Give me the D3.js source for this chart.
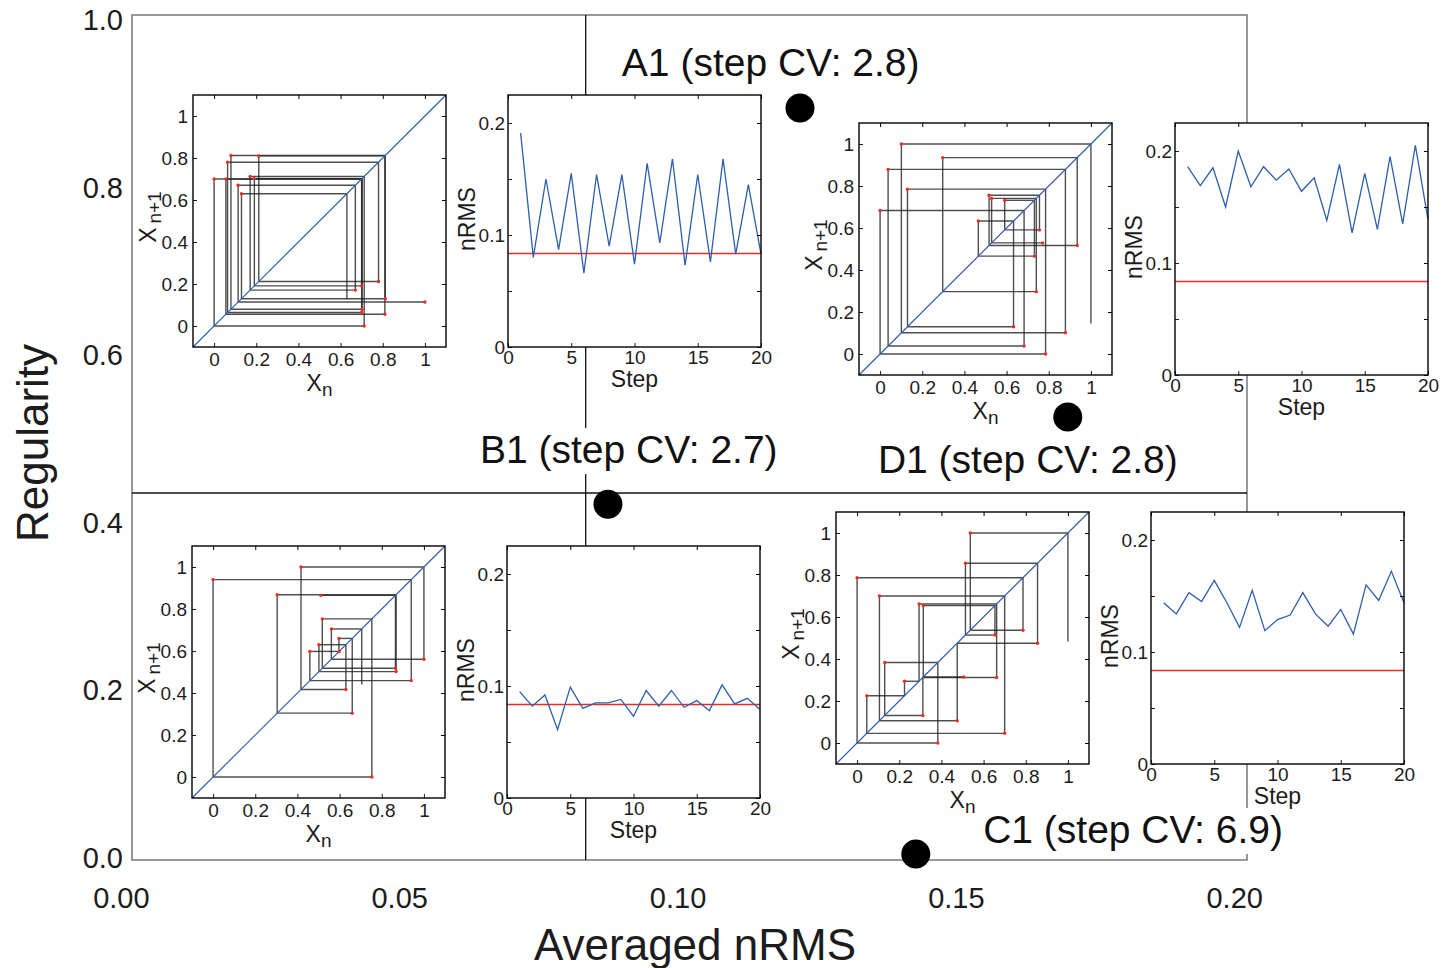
<!DOCTYPE html>
<html>
<head>
<meta charset="utf-8">
<script src="https://cdn.jsdelivr.net/npm/d3@7"></script>
<style>
  body { margin: 0; background: #fff; }
  svg { display: block; }
  text { font-family: "Liberation Sans", Arial, Helvetica, sans-serif; }
</style>
</head>
<body>
<svg id="chart" width="1450" height="968"></svg>
<script>
// ---------------- data ----------------
const caseNames  = ["A1", "B1", "C1", "D1"];
const stepCV     = [2.8, 2.7, 6.9, 2.8];
const avgNRMS    = [0.1220, 0.0875, 0.1428, 0.1701];   // averaged nRMS per case
const regularity = [0.8956, 0.4223, 0.0048, 0.5266];   // regularity per case
const refNRMS    = 0.0835;                              // nRMS threshold
const regularityCut = 0.4358;                           // regularity threshold

// label anchor per case (data units of the main axes)
const labelNRMS  = [0.0900, 0.0645, 0.1549, 0.1360];
const labelReg   = [0.9337, 0.4716, 0.0180, 0.4597];

// main axes
const xLim = [0.002, 0.2023];
const yLim = [-0.0024, 1.0066];
const xTicks = [0, 0.05, 0.10, 0.15, 0.20];
const yTicks = [0, 0.2, 0.4, 0.6, 0.8, 1.0];

// normalised step sequences (cobweb: X_n against X_n+1)
const seqA1 = [1.0, 0.114, 0.670, 0.171, 0.712, 0.0, 0.700, 0.064, 0.780, 0.212,
               0.810, 0.056, 0.700, 0.191, 0.702, 0.080, 0.812, 0.130, 0.630, 0.127];
const seqB1 = [0.511, 0.865, 0.518, 0.753, 0.0, 0.940, 0.459, 0.598, 0.597, 0.660,
               0.304, 0.868, 0.502, 0.630, 0.417, 1.0, 0.561, 0.705, 0.440];
const seqC1 = [0.506, 0.314, 0.654, 0.514, 0.856, 0.475, 0.106, 0.700, 0.046, 0.225,
               0.294, 0.662, 0.312, 0.131, 0.383, 0.0, 0.787, 0.537, 1.0, 0.483];
const seqD1 = [0.771, 0.529, 0.741, 0.297, 0.935, 0.517, 0.756, 0.591, 0.732, 0.466,
               0.633, 0.130, 0.785, 0.0, 0.683, 0.038, 0.879, 0.101, 1.0, 0.145];

// nRMS per step (steps 1..20)
const nrmsA1 = [0.191, 0.080, 0.150, 0.087, 0.155, 0.066, 0.154, 0.090, 0.154, 0.074,
                0.164, 0.093, 0.168, 0.073, 0.154, 0.076, 0.168, 0.083, 0.145, 0.083];
const nrmsB1 = [0.095, 0.082, 0.092, 0.061, 0.099, 0.080, 0.085, 0.085, 0.088, 0.073,
                0.096, 0.082, 0.096, 0.081, 0.087, 0.078, 0.101, 0.084, 0.089, 0.079];
const nrmsC1 = [0.144, 0.134, 0.153, 0.145, 0.164, 0.144, 0.122, 0.155, 0.119, 0.129,
                0.133, 0.153, 0.134, 0.123, 0.138, 0.116, 0.160, 0.146, 0.172, 0.144];
const nrmsD1 = [0.186, 0.169, 0.185, 0.150, 0.200, 0.168, 0.186, 0.174, 0.184, 0.164,
                0.176, 0.138, 0.188, 0.127, 0.180, 0.130, 0.195, 0.135, 0.205, 0.139];

const cobTicks  = [0, 0.2, 0.4, 0.6, 0.8, 1];
const stepTicks = [0, 5, 10, 15, 20];
const nrmsTicks = [0, 0.05, 0.1, 0.15, 0.2];
const cobLim  = [-0.1, 1.1];
const stepLim = [0, 20];
const nrmsLim = [0, 0.225];

// ---------------- layout ----------------
const W = 1450, H = 968;
const frame = { left: 132, right: 1247, top: 15, bottom: 860 };
const insetSize = { w: 253, h: 252 };
const insetPos = {
  A1: { cob: [193, 95],  nrms: [508, 95]  },
  B1: { cob: [192, 546], nrms: [507, 546] },
  C1: { cob: [836, 512], nrms: [1151, 512] },
  D1: { cob: [859, 123], nrms: [1175, 123] }
};
const seqs  = { A1: seqA1, B1: seqB1, C1: seqC1, D1: seqD1 };
const nrmss = { A1: nrmsA1, B1: nrmsB1, C1: nrmsC1, D1: nrmsD1 };

const BLUE = "#2d5fae", RED = "#ee2a24", INK = "#1c1c1c";
const FONT = '"Liberation Sans", Arial, Helvetica, sans-serif';

const svg = d3.select("#chart");
svg.append("rect").attr("width", W).attr("height", H).attr("fill", "#fff");

const xMain = d3.scaleLinear().domain(xLim).range([frame.left, frame.right]);
const yMain = d3.scaleLinear().domain(yLim).range([frame.bottom, frame.top]);

// frame
svg.append("rect")
  .attr("x", frame.left).attr("y", frame.top)
  .attr("width", frame.right - frame.left).attr("height", frame.bottom - frame.top)
  .attr("fill", "none").attr("stroke", "#6e6e6e").attr("stroke-width", 1.4);

// threshold lines dividing the quadrants
svg.append("line")
  .attr("x1", xMain(refNRMS)).attr("x2", xMain(refNRMS))
  .attr("y1", frame.top).attr("y2", frame.bottom)
  .attr("stroke", "#111").attr("stroke-width", 1.3);
svg.append("line")
  .attr("x1", frame.left).attr("x2", frame.right)
  .attr("y1", yMain(regularityCut)).attr("y2", yMain(regularityCut))
  .attr("stroke", "#111").attr("stroke-width", 1.3);

// main tick labels
function styleAxis(g, size) {
  g.select(".domain").remove();
  g.attr("font-family", FONT).attr("font-size", size).attr("color", INK);
}
svg.append("g")
  .attr("transform", `translate(0,${frame.bottom})`)
  .call(d3.axisBottom(xMain).tickValues(xTicks).tickFormat(d3.format(".2f")).tickSize(0).tickPadding(27))
  .call(g => styleAxis(g, 29));
svg.append("g")
  .attr("transform", `translate(${frame.left},0)`)
  .call(d3.axisLeft(yMain).tickValues(yTicks).tickFormat(d3.format(".1f")).tickSize(0).tickPadding(9))
  .call(g => styleAxis(g, 29));

// axis titles
svg.append("text")
  .attr("x", 695).attr("y", 960)
  .attr("text-anchor", "middle").attr("font-size", 44).attr("fill", INK)
  .text("Averaged nRMS");
svg.append("text")
  .attr("transform", "translate(48,443) rotate(-90)")
  .attr("text-anchor", "middle").attr("font-size", 44).attr("fill", INK)
  .text("Regularity");

// case labels: white backing under the text hides the lines behind it
const labelBgLayer = svg.append("g");
const insetLayer = svg.append("g");
const labelLayer = svg.append("g");
caseNames.forEach((name, i) => {
  const t = labelLayer.append("text")
    .attr("x", xMain(labelNRMS[i])).attr("y", yMain(labelReg[i]))
    .attr("font-size", 39).attr("fill", "#111")
    .text(`${name} (step CV: ${stepCV[i].toFixed(1)})`);
  const bb = t.node().getBBox();
  labelBgLayer.append("rect")
    .attr("x", bb.x - 2).attr("y", bb.y)
    .attr("width", bb.width + 4).attr("height", bb.height + 3)
    .attr("fill", "#fff");
});

// ---------------- insets ----------------
function frameBox(g, w, h) {
  g.append("rect").attr("width", w).attr("height", h)
    .attr("fill", "none").attr("stroke", "#000").attr("stroke-width", 1.4);
}
function inwardTicks(g, sx, sy, xt, yt, w, h) {
  const t = 4;
  g.append("g")
    .call(d3.axisTop(sx).tickValues(xt).tickSize(-t).tickFormat(""))
    .call(a => a.select(".domain").remove());
  g.append("g").attr("transform", `translate(${w},0)`)
    .call(d3.axisRight(sy).tickValues(yt).tickSize(-t).tickFormat(""))
    .call(a => a.select(".domain").remove());
}

function drawCobweb(key) {
  const seq = seqs[key];
  const [ox, oy] = insetPos[key].cob;
  const { w, h } = insetSize;
  const g = insetLayer.append("g").attr("transform", `translate(${ox},${oy})`);
  const sx = d3.scaleLinear().domain(cobLim).range([0, w]);
  const sy = d3.scaleLinear().domain(cobLim).range([h, 0]);
  g.append("rect").attr("width", w).attr("height", h).attr("fill", "#fff");

  // cobweb segments: horizontal to the diagonal, then vertical to the next value
  const segs = [];
  for (let n = 0; n < seq.length - 2; n++) {
    segs.push([[seq[n], seq[n + 1]], [seq[n + 1], seq[n + 1]]]);
    segs.push([[seq[n + 1], seq[n + 1]], [seq[n + 1], seq[n + 2]]]);
  }
  g.append("g").selectAll("line").data(segs).join("line")
    .attr("x1", d => sx(d[0][0])).attr("y1", d => sy(d[0][1]))
    .attr("x2", d => sx(d[1][0])).attr("y2", d => sy(d[1][1]))
    .attr("stroke", "#222").attr("stroke-opacity", 0.8).attr("stroke-width", 1.4);

  // identity line
  g.append("line")
    .attr("x1", sx(cobLim[0])).attr("y1", sy(cobLim[0]))
    .attr("x2", sx(cobLim[1])).attr("y2", sy(cobLim[1]))
    .attr("stroke", BLUE).attr("stroke-width", 1.2);

  // return-map points
  const pts = d3.range(seq.length - 2).map(n => [seq[n], seq[n + 1]]);
  g.append("g").selectAll("circle").data(pts).join("circle")
    .attr("cx", d => sx(d[0])).attr("cy", d => sy(d[1])).attr("r", 1.7)
    .attr("fill", RED);

  const fmt = d => (d === 0 || d === 1) ? String(d) : d3.format(".1f")(d);
  g.append("g").attr("transform", `translate(0,${h})`)
    .call(d3.axisBottom(sx).tickValues(cobTicks).tickFormat(fmt).tickSize(-4).tickPadding(6))
    .call(a => styleAxis(a, 19));
  g.append("g")
    .call(d3.axisLeft(sy).tickValues(cobTicks).tickFormat(fmt).tickSize(-4).tickPadding(5))
    .call(a => styleAxis(a, 19));
  inwardTicks(g, sx, sy, cobTicks, cobTicks, w, h);
  frameBox(g, w, h);

  // axis titles X_n and X_n+1
  const xl = g.append("text").attr("x", w / 2).attr("y", h + 44)
    .attr("text-anchor", "middle").attr("fill", INK);
  xl.append("tspan").attr("font-size", 23).text("X");
  xl.append("tspan").attr("font-size", 19).attr("dy", 5).text("n");
  const yl = g.append("text")
    .attr("transform", `translate(-37,${h / 2 - 4}) rotate(-90)`)
    .attr("text-anchor", "middle").attr("fill", INK);
  yl.append("tspan").attr("font-size", 23).text("X");
  yl.append("tspan").attr("font-size", 19).attr("dy", 5).text("\u2009n+1");
}

function drawNRMS(key) {
  const vals = nrmss[key];
  const [ox, oy] = insetPos[key].nrms;
  const { w, h } = insetSize;
  const g = insetLayer.append("g").attr("transform", `translate(${ox},${oy})`);
  const sx = d3.scaleLinear().domain(stepLim).range([0, w]);
  const sy = d3.scaleLinear().domain(nrmsLim).range([h, 0]);
  g.append("rect").attr("width", w).attr("height", h).attr("fill", "#fff");

  g.append("line")
    .attr("x1", sx(stepLim[0])).attr("x2", sx(stepLim[1]))
    .attr("y1", sy(refNRMS)).attr("y2", sy(refNRMS))
    .attr("stroke", RED).attr("stroke-width", 1.3);

  const line = d3.line().x((d, i) => sx(i + 1)).y(d => sy(d));
  g.append("path").datum(vals).attr("d", line)
    .attr("fill", "none").attr("stroke", BLUE).attr("stroke-width", 1.3);

  g.append("g").attr("transform", `translate(0,${h})`)
    .call(d3.axisBottom(sx).tickValues(stepTicks).tickFormat(d3.format("d")).tickSize(-4).tickPadding(4))
    .call(a => styleAxis(a, 19));
  const yfmt = d => (Math.round(d * 100) % 10 === 0) ? (d === 0 ? "0" : d3.format(".1f")(d)) : "";
  g.append("g")
    .call(d3.axisLeft(sy).tickValues(nrmsTicks).tickFormat(yfmt).tickSize(-4).tickPadding(3))
    .call(a => styleAxis(a, 19));
  inwardTicks(g, sx, sy, stepTicks, nrmsTicks, w, h);
  frameBox(g, w, h);

  g.append("text").attr("x", w / 2).attr("y", h + 40)
    .attr("text-anchor", "middle").attr("font-size", 23).attr("fill", INK).text("Step");
  g.append("text")
    .attr("transform", `translate(-33,${h / 2 - 2}) rotate(-90)`)
    .attr("text-anchor", "middle").attr("font-size", 23).attr("fill", INK).text("nRMS");
}

caseNames.forEach(k => { drawCobweb(k); drawNRMS(k); });

// ---------------- case points ----------------
svg.append("g").selectAll("circle").data(caseNames).join("circle")
  .attr("cx", (d, i) => xMain(avgNRMS[i]))
  .attr("cy", (d, i) => yMain(regularity[i]))
  .attr("r", 14.5).attr("fill", "#000");
</script>
</body>
</html>
